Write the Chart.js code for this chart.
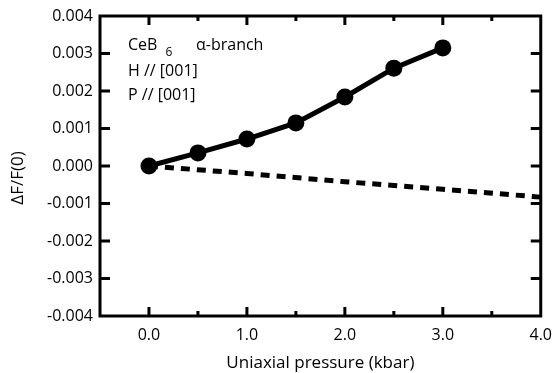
<!DOCTYPE html>
<html>
<head>
<meta charset="utf-8">
<script src="https://cdn.jsdelivr.net/npm/chart.js@4.4.1/dist/chart.umd.min.js"></script>
<style>
  html, body { margin: 0; padding: 0; background: #fff; }
</style>
</head>
<body>
<canvas id="pressureChart" width="553" height="373"></canvas>
<script>
// measured alpha-branch points
var pressure = [0, 0.5, 1.0, 1.5, 2.0, 2.5, 3.0];
var alphaShift = [0, 0.00035, 0.00072, 0.00115, 0.00184, 0.00261, 0.00315];

// dashed curve
var calcPressure = [0, 1, 2, 3, 4];
var calcShift = [0, -0.0002, -0.00042, -0.00062, -0.00083];

var yMin = -0.004, yMax = 0.004, yStep = 0.001;
var xMin = -0.5, xMax = 4.0, xStep = 0.5;

var fontFamily = "'Open Sans', 'Noto Sans', sans-serif";

function toPoints(xs, ys) {
    return xs.map(function (x, i) { return { x: x, y: ys[i] }; });
}

// frame, inward ticks, y title and the text block
var framePlugin = {
    id: "frame",
    afterDraw: function (chart) {
        var c = chart.ctx, a = chart.chartArea;
        var xs = chart.scales.x, ys = chart.scales.y;
        c.save();
        c.strokeStyle = "#000";
        c.lineWidth = 3;
        c.strokeRect(a.left, a.top, a.right - a.left, a.bottom - a.top);

        ys.ticks.forEach(function (t) {
            var py = ys.getPixelForValue(t.value);
            if (t.value <= yMin + 1e-9 || t.value >= yMax - 1e-9) return;
            c.beginPath();
            c.moveTo(a.left, py); c.lineTo(a.left + 10, py);
            c.moveTo(a.right, py); c.lineTo(a.right - 10, py);
            c.stroke();
        });
        xs.ticks.forEach(function (t) {
            var px = xs.getPixelForValue(t.value);
            if (t.value <= xMin + 1e-9 || t.value >= xMax - 1e-9) return;
            var major = Math.abs(t.value - Math.round(t.value)) < 1e-9;
            var len = major ? 9 : 5;
            c.beginPath();
            c.moveTo(px, a.bottom); c.lineTo(px, a.bottom - len);
            c.moveTo(px, a.top); c.lineTo(px, a.top + len);
            c.stroke();
        });

        c.fillStyle = "#000";
        c.textBaseline = "middle";
        c.textAlign = "left";
        c.font = "16px " + fontFamily;
        var tx = a.left + 28;
        c.fillText("CeB", tx, a.top + 29);
        var w = c.measureText("CeB").width;
        c.font = "12px " + fontFamily;
        c.fillText("6", tx + w + 8, a.top + 37);
        c.font = "16px " + fontFamily;
        c.fillText("\u03B1-branch", a.left + 96, a.top + 29);
        c.fillText("H // [001]", tx, a.top + 55);
        c.fillText("P // [001]", tx, a.top + 79);

        // y axis title, sits a little below the middle
        c.translate(18, (a.top + a.bottom) / 2 + 12);
        c.rotate(-Math.PI / 2);
        c.textAlign = "center";
        c.font = "17px " + fontFamily;
        c.fillText("\u0394F/F(0)", 0, 0);
        c.restore();
    }
};

var ctx = document.getElementById("pressureChart").getContext("2d");

new Chart(ctx, {
    type: "scatter",
    data: {
        datasets: [
            {
                label: "alpha-branch",
                data: toPoints(pressure, alphaShift),
                showLine: true,
                borderColor: "#000",
                backgroundColor: "#000",
                borderWidth: 5,
                pointRadius: 8.5,
                pointBorderWidth: 0,
                order: 1
            },
            {
                label: "calc",
                data: toPoints(calcPressure, calcShift),
                showLine: true,
                borderColor: "#000",
                borderWidth: 5,
                borderDash: [9, 7],
                pointRadius: 0,
                order: 2
            }
        ]
    },
    options: {
        responsive: false,
        animation: false,
        devicePixelRatio: 1,
        layout: { padding: { top: 16, right: 12, left: 0, bottom: 0 } },
        plugins: { legend: { display: false }, tooltip: { enabled: false } },
        scales: {
            x: {
                type: "linear",
                min: xMin,
                max: xMax,
                grid: { display: true, drawOnChartArea: false, drawTicks: true, tickLength: 9, color: "rgba(0,0,0,0)" },
                border: { display: false },
                afterFit: function (s) { s.height = 57; },
                ticks: {
                    stepSize: xStep,
                    autoSkip: false,
                    maxRotation: 0,
                    padding: 1,
                    color: "#000",
                    font: { family: fontFamily, size: 16 },
                    callback: function (v) {
                        if (v < 0) return "";
                        return Math.abs(v - Math.round(v)) < 1e-9 ? v.toFixed(1) : "";
                    }
                },
                title: {
                    display: true,
                    text: "Uniaxial pressure (kbar)",
                    color: "#000",
                    font: { family: fontFamily, size: 17 },
                    padding: { top: 0, bottom: 0 }
                }
            },
            y: {
                min: yMin,
                max: yMax,
                grid: { display: true, drawOnChartArea: false, drawTicks: true, tickLength: 7, color: "rgba(0,0,0,0)" },
                border: { display: false },
                afterFit: function (s) { s.width = 100; },
                ticks: {
                    stepSize: yStep,
                    padding: 0,
                    color: "#000",
                    font: { family: fontFamily, size: 16 },
                    callback: function (v) {
                        if (Math.abs(v) < 1e-9) return "0.000";
                        return v.toFixed(3);
                    }
                }
            }
        }
    },
    plugins: [framePlugin]
});
</script>
</body>
</html>
